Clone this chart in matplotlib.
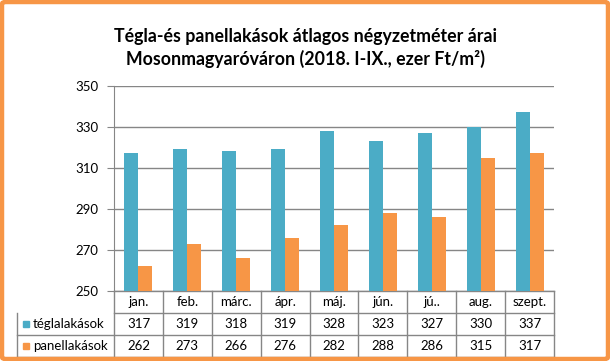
import matplotlib.pyplot as plt
from matplotlib.patches import FancyBboxPatch, Rectangle
import matplotlib.transforms as mtransforms

# adatok
honapok = ['jan.', 'feb.', 'márc.', 'ápr.', 'máj.', 'jún.', 'jú..', 'aug.', 'szept.']
tegla = [317, 319, 318, 319, 328, 323, 327, 330, 337]
panel = [262, 273, 266, 276, 282, 288, 286, 315, 317]
sorozatok = ['téglalakások', 'panellakások']
szinek = ['#4BACC6', '#F79646']
cim = 'Tégla-és panellakások átlagos négyzetméter árai\nMosonmagyaróváron (2018. I-IX., ezer Ft/m²)'

plt.rcParams['font.family'] = ['Lato', 'DejaVu Sans']
racs = '#868686'

W, H = 610, 361
fig = plt.figure(figsize=(W / 100, H / 100), dpi=100)

# keret
fig.patches.append(FancyBboxPatch((2 / W, 2 / H), (W - 4) / W, (H - 4) / H,
                                  boxstyle='round,pad=0,rounding_size=0.006',
                                  transform=fig.transFigure, fill=False,
                                  edgecolor='#F79646', linewidth=3.2))

bal, jobb, lent, fent = 114, 554, 291, 85.7
ax = fig.add_axes([bal / W, 1 - lent / H, (jobb - bal) / W, (lent - fent) / H])

n = len(honapok)
x = list(range(n))
w = 0.286
ax.bar([i - w / 2 for i in x], tegla, w, color=szinek[0], zorder=3)
ax.bar([i + w / 2 for i in x], panel, w, color=szinek[1], zorder=3)

ax.set_xlim(-0.5, n - 0.5)
ax.set_ylim(250, 350)
ax.set_yticks(range(250, 351, 20))
ax.tick_params(axis='y', length=5, color=racs, labelsize=9.5, pad=6)
ax.tick_params(axis='x', bottom=False, labelbottom=False)
ax.grid(axis='y', color=racs, linewidth=1, zorder=0)
for s in ['top', 'right', 'bottom']:
    ax.spines[s].set_visible(False)
ax.spines['left'].set_color(racs)

fig.text(306 / W, 1 - 48 / H, cim, ha='center', va='center',
         fontsize=12.8, fontweight='bold', linespacing=1.3)

# adattábla
tr = mtransforms.blended_transform_factory(ax.transData, ax.transAxes)
ah = lent - fent
sor = 22 / ah
bal_x = -0.5 - (bal - 17) / ((jobb - bal) / n)
sorok = [honapok, tegla, panel]
for r, ertekek in enumerate(sorok):
    yc = -(r + 0.5) * sor
    for i, v in enumerate(ertekek):
        ax.text(i, yc, str(v), transform=tr, ha='center', va='center',
                fontsize=9.5, clip_on=False)
for r in range(3):
    yl = -(r + 1) * sor
    x0 = -0.5 if r == 0 else bal_x
    ax.plot([x0, n - 0.5], [yl, yl], transform=tr, color=racs, lw=1, clip_on=False)
for k in range(n + 1):
    ax.plot([k - 0.5, k - 0.5], [0, -3 * sor], transform=tr, color=racs, lw=1, clip_on=False)
ax.plot([bal_x, bal_x], [-sor, -3 * sor], transform=tr, color=racs, lw=1, clip_on=False)
ax.plot([-0.5, n - 0.5], [0, 0], transform=tr, color=racs, lw=1, clip_on=False)

kulcs = 0.12
for r, (nev, sz) in enumerate(zip(sorozatok, szinek)):
    yc = -(r + 1.5) * sor
    ax.add_patch(Rectangle((bal_x + 0.12, yc - 3 / ah), kulcs, 6 / ah, transform=tr,
                           color=sz, clip_on=False))
    ax.text(bal_x + 0.33, yc, nev, transform=tr, ha='left', va='center',
            fontsize=9.5, clip_on=False)

fig.savefig('out.png', dpi=100)
